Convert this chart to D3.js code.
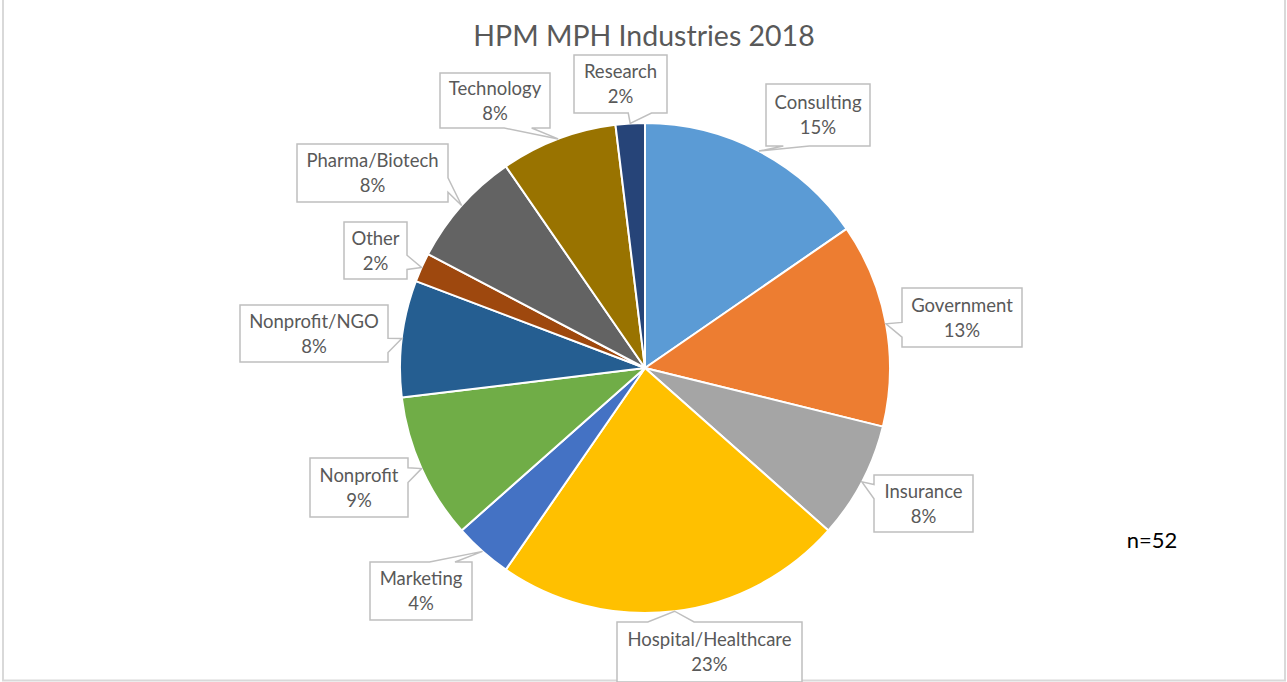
<!DOCTYPE html>
<html><head><meta charset="utf-8">
<script src="https://cdn.jsdelivr.net/npm/d3@7"></script>
<style>body{margin:0;background:#fff;} svg{display:block;}</style>
</head><body>
<svg id="c" width="1287" height="682"></svg>
<script>
const categories = ["Consulting","Government","Insurance","Hospital/Healthcare","Marketing","Nonprofit","Nonprofit/NGO","Other","Pharma/Biotech","Technology","Research"];
const counts = [8,7,4,12,2,5,4,1,4,4,1];
const pctLabels = ["15%","13%","8%","23%","4%","9%","8%","2%","8%","8%","2%"];
const colors = ["#5B9BD5","#ED7D31","#A5A5A5","#FFC000","#4472C4","#70AD47","#255E91","#9E480E","#636363","#997300","#264478"];
const title = "HPM MPH Industries 2018";
const note = "n=52";

const FONT = "Lato, 'Liberation Sans', sans-serif";
const svg = d3.select("#c");
const cx = 645, cy = 368, R = 245;

// frame
svg.append("rect").attr("x",3).attr("y",-5).attr("width",1282).attr("height",685.5)
  .attr("fill","#fff").attr("stroke","#d9d9d9").attr("stroke-width",2);

// title
svg.append("text").attr("x",644).attr("y",46).attr("text-anchor","middle")
  .attr("font-family",FONT).attr("font-size",28.5).attr("fill","#595959").text(title);

const data = categories.map((c,i)=>({cat:c, v:counts[i], pct:pctLabels[i], color:colors[i]}));
const pie = d3.pie().value(d=>d.v).sort(null);
const arcs = pie(data);
const arc = d3.arc().innerRadius(0).outerRadius(R);

const g = svg.append("g").attr("transform",`translate(${cx},${cy})`);
g.selectAll("path").data(arcs).join("path")
  .attr("d",arc).attr("fill",d=>d.data.color)
  .attr("stroke","#fff").attr("stroke-width",2).attr("stroke-linejoin","round");

// callout layout (box rects)
const boxes = [[766,84,104,62],[902,288,120,59],[874,475,99,57],[617,622,185,60],[370,562,102,58],[310,458,98,59],[240,305,148,57],[344,222,63,57],[297,144,151,58],[440,73,110,55],[574,55,93,58]];

function callout(x,y,w,h,tx,ty){
  const hc=x+w/2, vc=y+h/2, dx=tx-hc, dy=ty-vc;
  const dq=dx*h/w, dz=Math.abs(dy)-Math.abs(dq);
  const xg1=dx>0?7:2, xg2=dx>0?10:5, yg1=dy>0?7:2, yg2=dy>0?10:5;
  const x1=x+w*xg1/12, x2=x+w*xg2/12, y1=y+h*yg1/12, y2=y+h*yg2/12;
  const p=d3.path();
  p.moveTo(x,y);
  if(dz>0&&dy<0){p.lineTo(x1,y);p.lineTo(tx,ty);p.lineTo(x2,y);}
  p.lineTo(x+w,y);
  if(dz<=0&&dx>0){p.lineTo(x+w,y1);p.lineTo(tx,ty);p.lineTo(x+w,y2);}
  p.lineTo(x+w,y+h);
  if(dz>0&&dy>0){p.lineTo(x2,y+h);p.lineTo(tx,ty);p.lineTo(x1,y+h);}
  p.lineTo(x,y+h);
  if(dz<=0&&dx<0){p.lineTo(x,y2);p.lineTo(tx,ty);p.lineTo(x,y1);}
  p.closePath();
  return p.toString();
}

const lg = svg.append("g");
arcs.forEach((a,i)=>{
  const [bx,by,bw,bh]=boxes[i];
  const mid=(a.startAngle+a.endAngle)/2;
  const tx=cx+R*Math.sin(mid), ty=cy-R*Math.cos(mid);
  lg.append("path").attr("d",callout(bx,by,bw,bh,tx,ty))
    .attr("fill","#fff").attr("stroke","#bfbfbf").attr("stroke-width",1.5).attr("stroke-linejoin","miter");
  const t=lg.append("text").attr("text-anchor","middle").attr("font-family",FONT)
    .attr("font-size",18.5).attr("fill","#595959");
  t.append("tspan").attr("x",bx+bw/2).attr("y",by+bh/2-6).text(a.data.cat);
  t.append("tspan").attr("x",bx+bw/2).attr("y",by+bh/2+19).text(a.data.pct);
});

svg.append("text").attr("x",1152).attr("y",548).attr("text-anchor","middle")
  .attr("font-family",FONT).attr("font-size",22).attr("fill","#000").text(note);
</script>
</body></html>
